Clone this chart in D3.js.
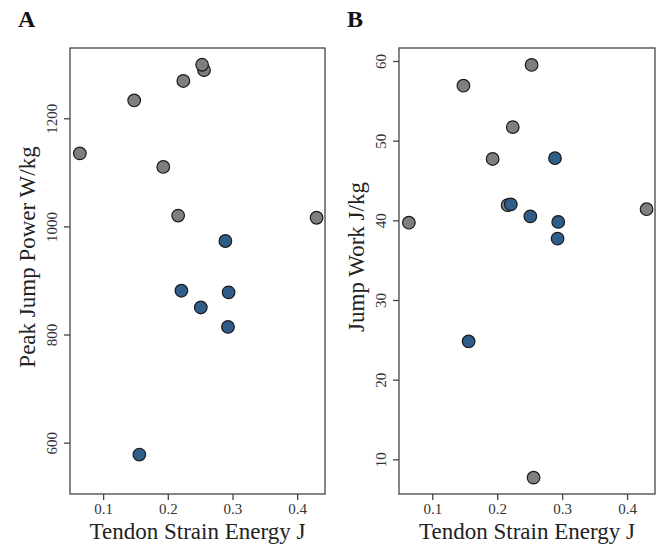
<!DOCTYPE html>
<html>
<head>
<meta charset="utf-8">
<script src="https://cdn.jsdelivr.net/npm/d3@7"></script>
<style>
  html, body { margin: 0; padding: 0; background: #fff; }
  svg { display: block; }
  svg text { font-family: 'Liberation Serif', 'Times New Roman', Times, serif !important; }
</style>
</head>
<body>
<svg id="chart" width="662" height="550"></svg>
<script>
// Data (x = tendon strain energy, J)
const grayX     = [0.064, 0.148, 0.193, 0.216, 0.224, 0.256, 0.253, 0.430];
const grayPower = [1135, 1233, 1110, 1020, 1269, 1289, 1299, 1016];
const grayWork  = [39.7, 56.9, 47.7, 41.9, 51.7, 7.7, 59.5, 41.4];

const blueX     = [0.156, 0.221, 0.251, 0.289, 0.293, 0.294];
const bluePower = [578, 881, 850, 973, 814, 878];
const blueWork  = [24.8, 42.0, 40.5, 47.8, 37.7, 39.8];

const xTicks      = [0.1, 0.2, 0.3, 0.4];
const powerTicks  = [600, 800, 1000, 1200];
const workTicks   = [10, 20, 30, 40, 50, 60];

const xLabel = "Tendon Strain Energy J";
const panels = [
  { tag: "A", yLabel: "Peak Jump Power W/kg", gy: grayPower, by: bluePower,
    yDomain: [505, 1330], yTicks: powerTicks, left: 70, right: 325 },
  { tag: "B", yLabel: "Jump Work J/kg", gy: grayWork, by: blueWork,
    yDomain: [5.65, 61.63], yTicks: workTicks, left: 399, right: 655 }
];

const svg = d3.select("#chart");
const plotTop = 48, plotBottom = 494;
const grayFill = "#7f7f7f", blueFill = "#2f5d8a", ptStroke = "#1a1a1a";
const frameColor = "#444";
const serif = "'Liberation Serif', 'Times New Roman', Times, serif";

panels.forEach(p => {
  const g = svg.append("g");
  const x = d3.scaleLinear().domain([0.0488, 0.443]).range([p.left, p.right]);
  const y = d3.scaleLinear().domain(p.yDomain).range([plotBottom, plotTop]);

  // frame
  g.append("rect")
    .attr("x", p.left).attr("y", plotTop)
    .attr("width", p.right - p.left).attr("height", plotBottom - plotTop)
    .attr("fill", "none").attr("stroke", frameColor).attr("stroke-width", 1.3);

  // x axis
  const xa = g.append("g").attr("transform", `translate(0,${plotBottom})`)
    .call(d3.axisBottom(x).tickValues(xTicks).tickSize(6).tickSizeOuter(0).tickFormat(d3.format(".1f")));
  xa.attr("font-family", serif);
  xa.select(".domain").remove();
  xa.selectAll(".tick line").attr("stroke", frameColor).attr("stroke-width", 1.3);
  xa.selectAll(".tick text").attr("y", 0).attr("dy", "20px")
    .style("font-size", "15px").attr("fill", "#333");

  // y axis
  const ya = g.append("g").attr("transform", `translate(${p.left},0)`)
    .call(d3.axisLeft(y).tickValues(p.yTicks).tickSize(6).tickSizeOuter(0).tickFormat(d3.format("d")));
  ya.attr("font-family", serif);
  ya.select(".domain").remove();
  ya.selectAll(".tick line").attr("stroke", frameColor).attr("stroke-width", 1.3);
  ya.selectAll(".tick text")
    .attr("x", null).attr("dy", null)
    .attr("text-anchor", "middle")
    .attr("transform", "translate(-13,0) rotate(-90)")
    .style("font-size", "15px").attr("fill", "#333");

  // axis titles
  g.append("text")
    .attr("x", (p.left + p.right) / 2).attr("y", 539)
    .attr("text-anchor", "middle").style("font-size", "23px").attr("fill", "#222")
    .text(xLabel);
  g.append("text")
    .attr("transform", `translate(${p.left - 35},257) rotate(-90)`)
    .attr("text-anchor", "middle").style("font-size", "23px").attr("fill", "#222")
    .text(p.yLabel);

  // panel tag
  g.append("text")
    .attr("x", p.left - 52).attr("y", 27)
    .style("font-size", "24px").style("font-weight", "bold").attr("fill", "#111")
    .text(p.tag);

  // points
  g.append("g").selectAll("circle").data(grayX.map((v, i) => [v, p.gy[i]]))
    .join("circle")
    .attr("cx", d => x(d[0])).attr("cy", d => y(d[1])).attr("r", 6.3)
    .attr("fill", grayFill).attr("stroke", ptStroke).attr("stroke-width", 1.2);
  g.append("g").selectAll("circle").data(blueX.map((v, i) => [v, p.by[i]]))
    .join("circle")
    .attr("cx", d => x(d[0])).attr("cy", d => y(d[1])).attr("r", 6.3)
    .attr("fill", blueFill).attr("stroke", ptStroke).attr("stroke-width", 1.2);
});
</script>
</body>
</html>
